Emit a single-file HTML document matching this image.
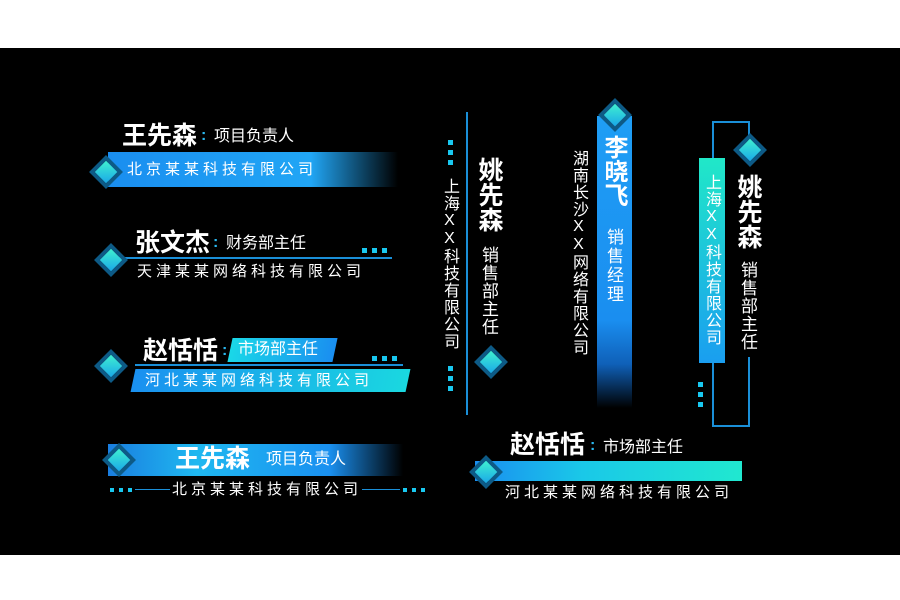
<!DOCTYPE html>
<html><head><meta charset="utf-8"><style>
body{margin:0;width:900px;height:600px;background:#fff;position:relative;overflow:hidden;font-family:"Liberation Sans","Noto Sans CJK SC",sans-serif;color:#fff}
.panel{position:absolute;left:0;top:48px;width:900px;height:507px;background:#000}
.a{position:absolute;white-space:nowrap;line-height:1}
.nm{font-size:25px;font-weight:bold}
.t{font-size:16px}
.c{font-size:15px;letter-spacing:4px}
.v{writing-mode:vertical-rl;text-orientation:upright}
.dia{position:absolute;width:16px;height:16px;transform:rotate(45deg);background:linear-gradient(135deg,#3ff0d0,#1aa8e8);border:4px solid #0d5a86}
.ln{position:absolute;background:#1a8fd8}
.dot{position:absolute;width:5px;height:5px;background:#19c8f0}
.col{color:#2ab8f0;font-weight:bold}
</style></head><body>
<div class="panel"></div>

<!-- Block 1 -->
<div class="a nm" style="left:122px;top:124px">王先森</div>
<div class="a t col" style="left:201px;top:128px">:</div>
<div class="a t" style="left:214px;top:129px">项目负责人</div>
<div style="position:absolute;left:108px;top:152px;width:290px;height:35px;background:linear-gradient(90deg,#1a8ef0,#21a6f5 70%,rgba(20,100,200,0))"></div>
<div class="dia" style="left:94px;top:160px"></div>
<div class="a c" style="left:127px;top:162px">北京某某科技有限公司</div>

<!-- Block 2 -->
<div class="a nm" style="left:135px;top:231px">张文杰</div>
<div class="a t col" style="left:213px;top:235px">:</div>
<div class="a t" style="left:226px;top:236px">财务部主任</div>
<div class="ln" style="left:115px;top:257px;width:277px;height:2px"></div>
<div class="dot" style="left:362px;top:248px"></div><div class="dot" style="left:372px;top:248px"></div><div class="dot" style="left:382px;top:248px"></div>
<div class="dia" style="left:99px;top:248px"></div>
<div class="a c" style="left:137px;top:264px">天津某某网络科技有限公司</div>

<!-- Block 3 -->
<div class="a nm" style="left:143px;top:339px">赵恬恬</div>
<div class="a t col" style="left:222px;top:343px">:</div>
<div style="position:absolute;left:230px;top:338px;width:105px;height:24px;background:linear-gradient(90deg,#1ad8e8,#1a8ef0);transform:skewX(-12deg)"></div>
<div class="a t" style="left:238px;top:342px">市场部主任</div>
<div class="dot" style="left:372px;top:356px"></div><div class="dot" style="left:382px;top:356px"></div><div class="dot" style="left:392px;top:356px"></div>
<div class="ln" style="left:135px;top:364px;width:268px;height:2px"></div>
<div style="position:absolute;left:133px;top:369px;width:275px;height:23px;background:linear-gradient(90deg,#1a90f0,#1ad8e0);transform:skewX(-12deg)"></div>
<div class="dia" style="left:99px;top:354px"></div>
<div class="a c" style="left:145px;top:373px">河北某某网络科技有限公司</div>

<!-- Block 4 -->
<div style="position:absolute;left:108px;top:444px;width:295px;height:32px;background:linear-gradient(90deg,#1a7ee0,#1fb8f0 30%,#1a90f0 75%,rgba(10,60,140,0))"></div>
<div class="dia" style="left:107px;top:448px"></div>
<div class="a nm" style="left:175px;top:447px">王先森</div>
<div class="a t" style="left:266px;top:452px">项目负责人</div>
<div class="dot" style="left:110px;top:488px;width:4px;height:4px"></div><div class="dot" style="left:119px;top:488px;width:4px;height:4px"></div><div class="dot" style="left:128px;top:488px;width:4px;height:4px"></div>
<div class="ln" style="left:135px;top:489px;width:35px;height:1px"></div>
<div class="a c" style="left:172px;top:482px">北京某某科技有限公司</div>
<div class="ln" style="left:362px;top:489px;width:38px;height:1px"></div>
<div class="dot" style="left:403px;top:488px;width:4px;height:4px"></div><div class="dot" style="left:412px;top:488px;width:4px;height:4px"></div><div class="dot" style="left:421px;top:488px;width:4px;height:4px"></div>

<!-- Vertical 1 -->
<div class="ln" style="left:466px;top:112px;width:2px;height:303px"></div>
<div class="dot" style="left:448px;top:140px"></div><div class="dot" style="left:448px;top:150px"></div><div class="dot" style="left:448px;top:160px"></div>
<div class="dot" style="left:448px;top:366px"></div><div class="dot" style="left:448px;top:376px"></div><div class="dot" style="left:448px;top:386px"></div>
<div class="a v" style="left:441px;top:178px;font-size:16px;letter-spacing:1px">上海XX科技有限公司</div>
<div class="a nm v" style="left:476px;top:157px">姚先森</div>
<div class="a t v" style="left:480px;top:246px;font-size:17px;letter-spacing:1px">销售部主任</div>
<div class="dia" style="left:479px;top:350px"></div>

<!-- Vertical 2 -->
<div style="position:absolute;left:597px;top:116px;width:35px;height:292px;background:linear-gradient(180deg,#1f9ef5,#1a8ef0 70%,#0f60b8 85%,rgba(0,20,60,0))"></div>
<div class="dia" style="left:603px;top:103px"></div>
<div class="a nm v" style="left:601px;top:135px;font-size:24px">李晓飞</div>
<div class="a t v" style="left:605px;top:228px;font-size:17px;letter-spacing:2px">销售经理</div>
<div class="a v" style="left:570px;top:150px;font-size:16px;letter-spacing:1px">湖南长沙XX网络有限公司</div>

<!-- Vertical 3 -->
<div class="ln" style="left:712px;top:121px;width:38px;height:2px"></div>
<div class="ln" style="left:712px;top:121px;width:2px;height:40px"></div>
<div class="ln" style="left:748px;top:121px;width:2px;height:20px"></div>
<div class="ln" style="left:712px;top:360px;width:2px;height:67px"></div>
<div class="ln" style="left:748px;top:357px;width:2px;height:70px"></div>
<div class="ln" style="left:712px;top:425px;width:38px;height:2px"></div>
<div class="dia" style="left:738px;top:138px"></div>
<div style="position:absolute;left:699px;top:158px;width:26px;height:205px;background:linear-gradient(180deg,#20e8c8,#1a9ef0)"></div>
<div class="a v" style="left:703px;top:174px;font-size:16px;letter-spacing:1px">上海XX科技有限公司</div>
<div class="dot" style="left:698px;top:382px"></div><div class="dot" style="left:698px;top:392px"></div><div class="dot" style="left:698px;top:402px"></div>
<div class="a nm v" style="left:735px;top:174px">姚先森</div>
<div class="a t v" style="left:739px;top:261px;font-size:17px;letter-spacing:1px">销售部主任</div>

<!-- Bottom right -->
<div class="a nm" style="left:510px;top:433px">赵恬恬</div>
<div class="a t col" style="left:590px;top:438px">:</div>
<div class="a t" style="left:603px;top:440px">市场部主任</div>
<div style="position:absolute;left:475px;top:461px;width:267px;height:20px;background:linear-gradient(90deg,#1a8ef0,#1ac8e8 40%,#20e8d0)"></div>
<div class="dia" style="left:474px;top:460px"></div>
<div class="a c" style="left:505px;top:485px">河北某某网络科技有限公司</div>
</body></html>
